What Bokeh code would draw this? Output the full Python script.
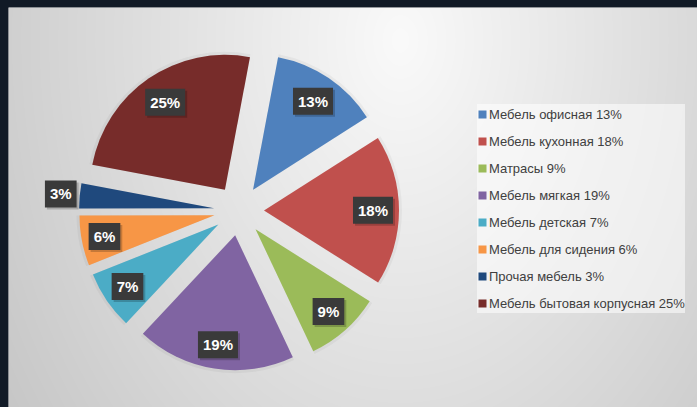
import numpy as np
from bokeh.plotting import figure
from bokeh.models import (ColumnDataSource, Legend, LegendItem, Range1d,
                          GlobalInlineStyleSheet)
from bokeh.core.properties import value
from bokeh.embed import file_html
from bokeh.resources import INLINE

# ---- data ----
categories = ["Мебель офисная", "Мебель кухонная", "Матрасы", "Мебель мягкая",
              "Мебель детская", "Мебель для сидения", "Прочая мебель",
              "Мебель бытовая корпусная"]
values = [13, 18, 9, 19, 7, 6, 3, 25]
colors = ["#4F81BD", "#C0504D", "#9BBB59", "#8064A2",
          "#4BACC6", "#F79646", "#1F497D", "#772C2A"]

# ---- layout/style ----
W, H = 689, 400
CX, CY = 230.5, 197.0        # pie centre (plot units = pixels)
R = 135                      # radius
EXPLODE = 25                 # explosion offset
FIRST = 10.7                 # angle of first slice, degrees clockwise from 12 o'clock
label_dist = [132, 134, 135, 136, 135, 137, 179, 131]

p = figure(width=W, height=H, x_range=Range1d(0, W), y_range=Range1d(0, H),
           output_backend="svg", toolbar_location=None, min_border=0)
p.axis.visible = False
p.grid.visible = False
p.outline_line_color = None
p.background_fill_color = "#d8d8d8"
p.border_fill_color = "#d8d8d8"
p.stylesheets = [GlobalInlineStyleSheet(
    css="html,body{background:#111a26 !important;overflow:hidden;}"
        "body{margin:7px 0 0 8px !important;}")]

# background radial gradient
ii, jj = np.mgrid[0:H, 0:W]
px = 8 + jj + 0.5
py = 7 + (H - (ii + 0.5))
rr = np.sqrt((px - 400) ** 2 + ((py - 40) / 1.4) ** 2)
v = np.clip(250 - 0.108 * rr, 196, 251).astype(np.uint8)
img = np.empty((H, W), dtype=np.uint32)
view = img.view(dtype=np.uint8).reshape((H, W, 4))
view[:, :, 0] = v
view[:, :, 1] = v
view[:, :, 2] = v
view[:, :, 3] = 255
p.image_rgba(image=[img], x=0, y=0, dw=W, dh=H)

# pie geometry
vals = np.array(values, dtype=float)
cum = np.concatenate([[0], np.cumsum(vals)[:-1]])
th0 = FIRST + cum * 3.6
th1 = th0 + vals * 3.6
bis = np.radians((th0 + th1) / 2)
src = ColumnDataSource(dict(
    x=CX + EXPLODE * np.sin(bis),
    y=CY + EXPLODE * np.cos(bis),
    start=np.radians(90 - th1),
    end=np.radians(90 - th0),
    color=colors,
    lx=CX + np.array(label_dist) * np.sin(bis),
    ly=CY + np.array(label_dist) * np.cos(bis),
    txt=[f"{int(x)}%" for x in values],
))

# soft shadow around slices
p.wedge(x='x', y='y', radius=R + 3, start_angle='start', end_angle='end',
        fill_color="black", fill_alpha=0.04, line_color=None, source=src)
wr = p.wedge(x='x', y='y', radius=R, start_angle='start', end_angle='end',
             fill_color='color', line_color=None, source=src)

# data labels (shadow + box)
p.text(x='lx', y='ly', text='txt', source=src, x_offset=2, y_offset=2,
       text_align="center", text_baseline="middle",
       text_font=value("Liberation Sans"), text_font_style="bold",
       text_font_size="15px", text_alpha=0,
       background_fill_color="black", background_fill_alpha=0.2, padding=5)
p.text(x='lx', y='ly', text='txt', source=src,
       text_align="center", text_baseline="middle",
       text_font=value("Liberation Sans"), text_font_style="bold",
       text_font_size="15px", text_color="white",
       background_fill_color="#3a3a3a", padding=5)

# legend
items = [LegendItem(label=f"{c} {int(x)}%", renderers=[wr], index=i)
         for i, (c, x) in enumerate(zip(categories, values))]
legend = Legend(items=items, location=(469, 94), orientation="vertical",
                glyph_width=10, glyph_height=10, label_height=20, label_standoff=2,
                spacing=7, padding=7, margin=0,
                label_text_font="Liberation Sans", label_text_font_size="13px",
                label_text_color="#404040",
                background_fill_color="white", background_fill_alpha=0.55,
                border_line_color=None)
p.add_layout(legend)

open("out.html", "w").write(file_html(p, INLINE))
